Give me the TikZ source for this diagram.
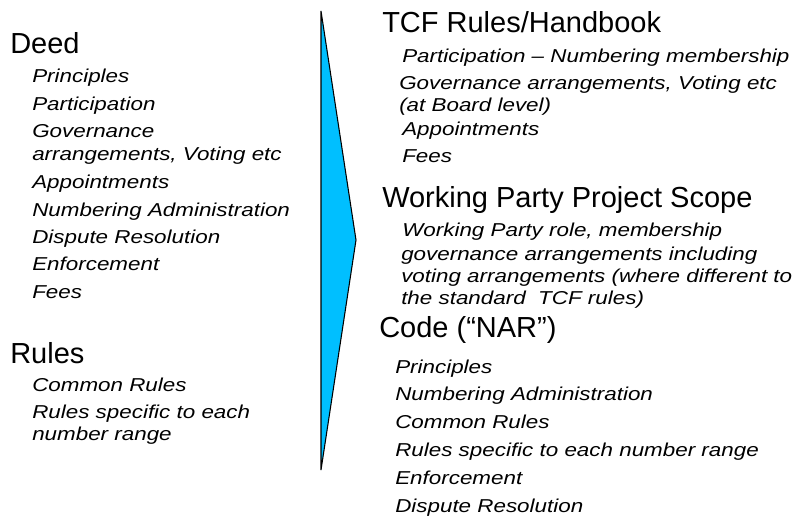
\documentclass[tikz,border=0pt]{standalone}
\usepackage{fontspec}
\setmainfont{Liberation Sans}
\newfontfamily\itemfamily[FakeStretch=1.2]{Liberation Sans}
\definecolor{arrowblue}{RGB}{0,191,255}
\tikzset{
  head/.style={anchor=base west,inner sep=0pt,font=\fontsize{21.75}{26}\selectfont},
  item/.style={anchor=base west,inner sep=0pt,font=\itemfamily\itshape\fontsize{14}{17}\selectfont}
}
\begin{document}
\begin{tikzpicture}[x=0.75pt,y=0.75pt]
\useasboundingbox (0,0) rectangle (801,-517);

\filldraw[fill=arrowblue,draw=black,line width=0.8pt] (321,-11) -- (356,-240) -- (321,-470) -- cycle;

\node[head] (deed) at (10,-54) {Deed};
\node[item] (deed1) at (32,-83) {Principles};
\node[item] (deed2) at (32,-110.5) {Participation};
\node[item] (deed3) at (32,-138) {Governance};
\node[item] (deed3b) at (32,-161) {arrangements, Voting etc};
\node[item] (deed4) at (32,-188.5) {Appointments};
\node[item] (deed5) at (32,-216) {Numbering Administration};
\node[item] (deed6) at (32,-243.5) {Dispute Resolution};
\node[item] (deed7) at (32,-271) {Enforcement};
\node[item] (deed8) at (32,-298.5) {Fees};

\node[head] (rules) at (10,-363) {Rules};
\node[item] (rules1) at (32,-391) {Common Rules};
\node[item] (rules2) at (32,-418.5) {Rules specific to each};
\node[item] (rules2b) at (32,-440) {number range};

\node[head] (tcf) at (382,-33) {TCF Rules/Handbook};
\node[item] (tcf1) at (402,-63) {Participation – Numbering membership};
\node[item] (tcf2) at (399,-90) {Governance arrangements, Voting etc};
\node[item] (tcf2b) at (399,-112) {(at Board level)};
\node[item] (tcf3) at (402,-136) {Appointments};
\node[item] (tcf4) at (402,-163) {Fees};

\node[head] (wp) at (382,-208) {Working Party Project Scope};
\node[item] (wp1) at (402,-237) {Working Party role, membership};
\node[item] (wp1b) at (401,-260) {governance arrangements including};
\node[item] (wp1c) at (401,-282) {voting arrangements (where different to};
\node[item] (wp1d) at (401,-305) {the standard \ TCF rules)};

\node[head] (code) at (379,-337) {Code (“NAR”)};
\node[item] (code1) at (395,-373) {Principles};
\node[item] (code2) at (395,-400) {Numbering Administration};
\node[item] (code3) at (395,-428) {Common Rules};
\node[item] (code4) at (395,-456) {Rules specific to each number range};
\node[item] (code5) at (395,-484) {Enforcement};
\node[item] (code6) at (395,-512) {Dispute Resolution};
\end{tikzpicture}
\end{document}
